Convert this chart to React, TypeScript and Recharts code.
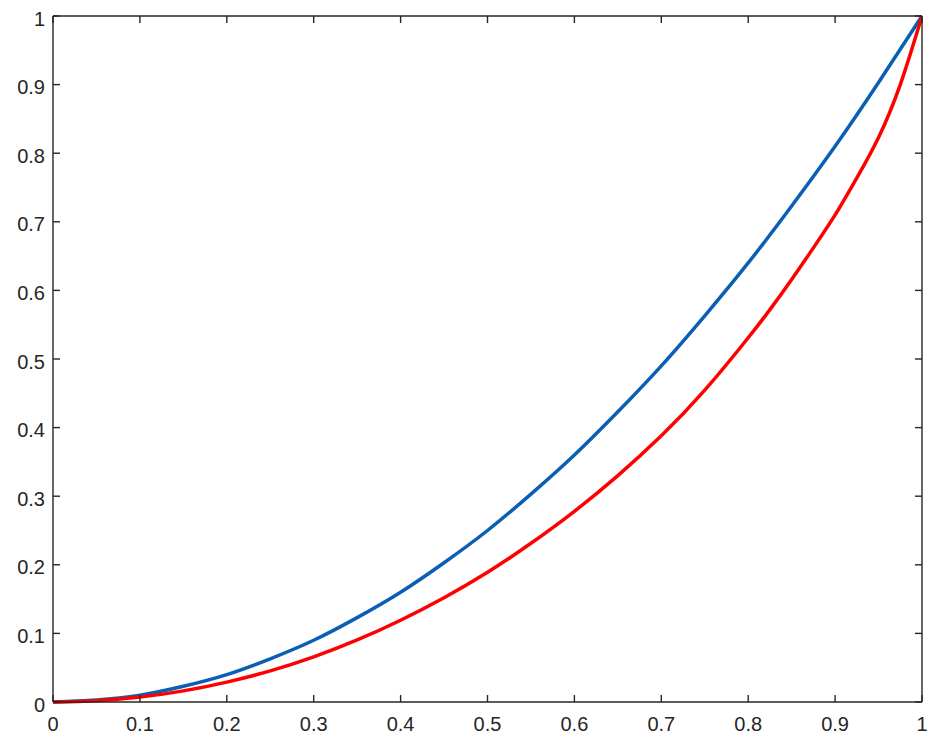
import { LineChart, Line, XAxis, YAxis } from 'recharts';

const ticks = [0, 0.1, 0.2, 0.3, 0.4, 0.5, 0.6, 0.7, 0.8, 0.9, 1];

const blueX = [0, 0.05, 0.1, 0.15, 0.2, 0.25, 0.3, 0.35, 0.4, 0.45, 0.5, 0.55, 0.6, 0.65, 0.7, 0.75, 0.8, 0.85, 0.9, 0.95, 1];
const blueY = [0, 0.003, 0.01, 0.023, 0.04, 0.063, 0.09, 0.123, 0.16, 0.203, 0.25, 0.303, 0.36, 0.423, 0.49, 0.563, 0.64, 0.723, 0.81, 0.903, 1];

const redX = [0, 0.05, 0.1, 0.15, 0.2, 0.25, 0.3, 0.35, 0.4, 0.45, 0.5, 0.55, 0.6, 0.65, 0.7, 0.75, 0.8, 0.825, 0.85, 0.875, 0.9, 0.925, 0.95, 0.975, 1];
const redY = [0, 0.0018, 0.0072, 0.0162, 0.029, 0.0453, 0.0657, 0.0904, 0.1192, 0.1519, 0.189, 0.2314, 0.278, 0.33, 0.388, 0.4545, 0.531, 0.572, 0.616, 0.662, 0.71, 0.764, 0.823, 0.9, 1];

const blueData = blueX.map((x, i) => ({ x, y: blueY[i] }));
const redData = redX.map((x, i) => ({ x, y: redY[i] }));

const ink = '#262626';
const fontFamily = 'Liberation Sans, Arial, Helvetica, sans-serif';
const fontSize = 20;
const tickLen = 7;
const lineW = 1.4;

// plot box edges inside the svg (top axis height / right axis width)
const plotTop = 8;
const plotRight = 914;

const fmt = (v: number) => String(Number(v.toFixed(1)));

// bottom ticks also draw the mirrored tick on the top edge
function BottomTick(props: any) {
    const { x, y, payload } = props;
    return (
        <g>
            <path d={`M${x},${y}v${-tickLen}`} stroke={ink} strokeWidth={lineW} />
            <path d={`M${x},${plotTop}v${tickLen}`} stroke={ink} strokeWidth={lineW} />
            <text x={x} y={y + 29} textAnchor="middle" fill={ink} fontSize={fontSize} fontFamily={fontFamily}>
                {fmt(payload.value)}
            </text>
        </g>
    );
}

// left ticks also draw the mirrored tick on the right edge
function LeftTick(props: any) {
    const { x, y, payload } = props;
    return (
        <g>
            <path d={`M${x},${y}h${tickLen}`} stroke={ink} strokeWidth={lineW} />
            <path d={`M${plotRight},${y}h${-tickLen}`} stroke={ink} strokeWidth={lineW} />
            <text x={x - 8} y={y + 9.5} textAnchor="end" fill={ink} fontSize={fontSize} fontFamily={fontFamily}>
                {fmt(payload.value)}
            </text>
        </g>
    );
}

export default function App() {
    return (
        <LineChart width={930} height={738} margin={{ top: 0, right: 0, bottom: 0, left: 0 }}>
            <XAxis
                xAxisId="b"
                dataKey="x"
                type="number"
                domain={[0, 1]}
                ticks={ticks}
                allowDataOverflow
                height={44}
                stroke={ink}
                strokeWidth={lineW}
                tickLine={false}
                tickSize={0}
                tickMargin={0}
                tick={<BottomTick />}
                interval={0}
            />
            <XAxis
                xAxisId="t"
                dataKey="x"
                type="number"
                orientation="top"
                domain={[0, 1]}
                height={8}
                stroke={ink}
                strokeWidth={lineW}
                tickLine={false}
                tick={false}
            />
            <YAxis
                yAxisId="l"
                type="number"
                domain={[0, 1]}
                ticks={ticks}
                width={45}
                stroke={ink}
                strokeWidth={lineW}
                tickLine={false}
                tickSize={0}
                tickMargin={0}
                tick={<LeftTick />}
                interval={0}
            />
            <YAxis
                yAxisId="r"
                type="number"
                orientation="right"
                domain={[0, 1]}
                width={16}
                stroke={ink}
                strokeWidth={lineW}
                tickLine={false}
                tick={false}
            />
            <Line
                xAxisId="b"
                yAxisId="l"
                data={blueData}
                dataKey="y"
                type="natural"
                stroke="#0a5fb5"
                strokeWidth={3.5}
                dot={false}
                isAnimationActive={false}
            />
            <Line
                xAxisId="b"
                yAxisId="l"
                data={redData}
                dataKey="y"
                type="natural"
                stroke="#ff0000"
                strokeWidth={3.5}
                dot={false}
                isAnimationActive={false}
            />
        </LineChart>
    );
}
